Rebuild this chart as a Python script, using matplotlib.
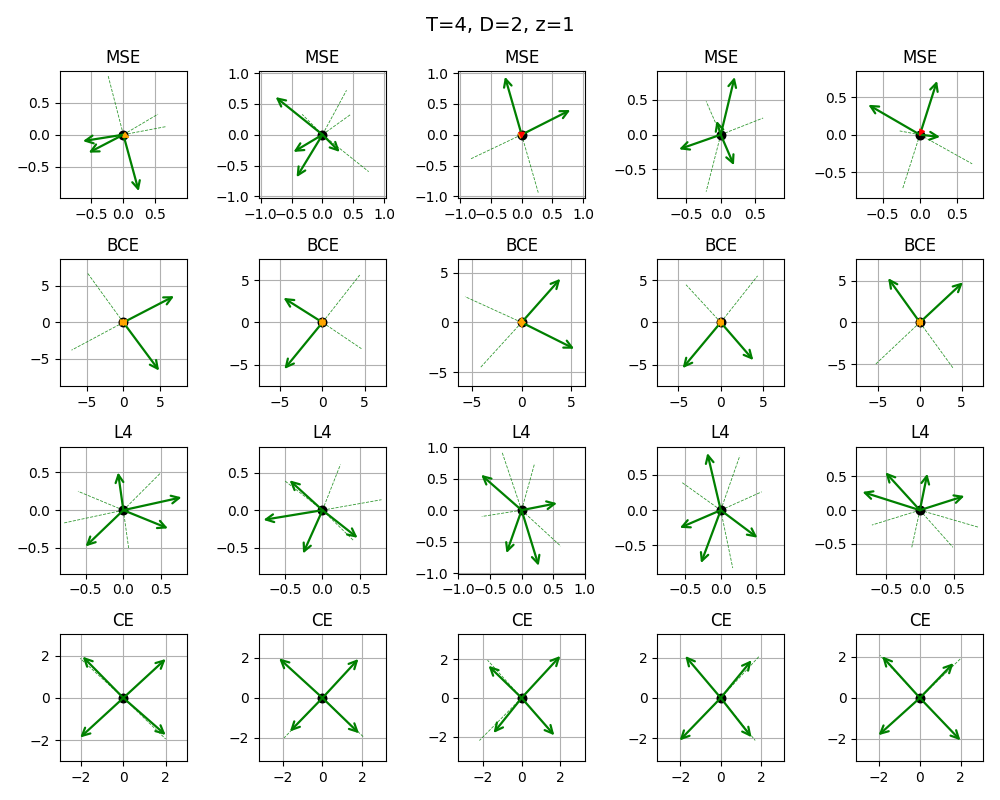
import numpy as np
import matplotlib
matplotlib.use("Agg")
import matplotlib.pyplot as plt
from matplotlib.ticker import MaxNLocator

losses = ["MSE", "BCE", "L4", "CE"]
fig_title = "T=4, D=2, z=1"

# green arrows (tips), one list per row, one array per column
mse_vecs = [
    [(-0.63, -0.10), (-0.54, -0.28), (0.24, -0.88)],
    [(-0.76, 0.61), (-0.47, -0.28), (-0.42, -0.69), (0.28, -0.28)],
    [(-0.27, 0.94), (0.79, 0.40)],
    [(0.20, 0.83), (-0.60, -0.21), (0.19, -0.44), (-0.06, 0.20)],
    [(-0.69, 0.40), (0.23, 0.72), (0.27, -0.03)],
]
bce_vecs = [
    [(6.95, 3.6), (4.9, -6.6)],
    [(-4.6, 2.9), (-4.5, -5.5)],
    [(3.9, 4.4), (5.3, -2.65)],
    [(-4.5, -5.4), (3.85, -4.45)],
    [(-3.8, 5.3), (5.15, 4.8)],
]
l4_vecs = [
    [(-0.07, 0.50), (0.77, 0.17), (0.59, -0.24), (-0.50, -0.48)],
    [(-0.44, 0.40), (-0.79, -0.13), (-0.26, -0.58), (0.47, -0.37)],
    [(-0.64, 0.56), (0.56, 0.11), (-0.24, -0.68), (0.27, -0.88)],
    [(-0.19, 0.81), (-0.58, -0.25), (-0.28, -0.75), (0.52, -0.39)],
    [(-0.51, 0.56), (0.11, 0.54), (-0.85, 0.27), (0.66, 0.21)],
]
ce_vecs = [
    [(-1.92, 1.95), (2.0, 1.84), (-2.04, -1.87), (2.0, -1.75)],
    [(-2.17, 1.98), (1.8, 1.95), (-1.63, -1.68), (1.83, -1.77)],
    [(-1.71, 1.66), (2.0, 2.17), (-1.45, -1.81), (1.69, -1.93)],
    [(-1.76, 2.08), (1.53, 1.87), (-2.04, -2.11), (1.53, -1.95)],
    [(-1.84, 2.03), (1.64, 1.70), (-2.02, -1.82), (1.98, -2.07)],
]

# dashed reference directions (end points, drawn from origin)
mse_refs = [
    [(-0.24, 0.93), (0.54, 0.32), (0.66, 0.125)],
    [(0.39, 0.72), (0.46, 0.33), (0.75, -0.60), (-0.33, 0.33)],
    [(-0.82, -0.39), (0.27, -0.94)],
    [(-0.21, 0.48), (-0.21, -0.82), (0.61, 0.24)],
    [(-0.27, 0.05), (0.70, -0.39), (-0.23, -0.72)],
]
bce_refs = [
    [(-4.9, 6.75), (-7.1, -3.8)],
    [(4.4, 5.6), (4.6, -3.1)],
    [(-5.7, 2.6), (-4.2, -4.6)],
    [(4.35, 5.5), (-4.1, 4.45)],
    [(-5.3, -5.0), (4.0, -5.5)],
]
l4_refs = [
    [(-0.60, 0.25), (0.49, 0.49), (-0.79, -0.17), (0.07, -0.50)],
    [(0.24, 0.61), (0.79, 0.14), (0.42, -0.41), (-0.50, 0.39)],
    [(-0.31, 0.92), (0.20, 0.72), (-0.63, -0.10), (0.62, -0.57)],
    [(0.27, 0.77), (0.58, 0.26), (-0.56, 0.40), (0.17, -0.82)],
    [(-0.71, -0.22), (0.86, -0.25), (-0.12, -0.55), (0.49, -0.55)],
]
ce_refs = [
    [(-2.04, 1.87), (2.0, -1.94)],
    [(-1.92, -2.0), (2.08, -1.98)],
    [(-1.76, 1.95), (-2.18, -2.2)],
    [(1.92, 2.08), (1.71, -2.11)],
    [(-1.95, 2.08), (2.02, 1.95)],
]

# small orange / red arrows at the origin
mse_orange = [[(0.10, -0.05)], [], [(0.06, 0.03)], [], []]
mse_red = [[], [], [(0.0, -0.07)], [], [(-0.01, -0.02)]]
bce_orange = [[(0.0, 0.6), (0.0, -0.6), (0.5, 0.0), (-0.5, 0.0)]] * 5
l4_orange = [[]] * 5
ce_orange = [[]] * 5
no_red = [[]] * 5

vecs = [mse_vecs, bce_vecs, l4_vecs, ce_vecs]
refs = [mse_refs, bce_refs, l4_refs, ce_refs]
oranges = [mse_orange, bce_orange, l4_orange, ce_orange]
reds = [mse_red, no_red, no_red, no_red]

lims = [
    [0.99, 1.03, 1.03, 0.914, 0.85],
    [8.7, 7.5, 6.4, 7.5, 7.6],
    [0.84, 0.85, 1.005, 0.9, 0.94],
    [3.0, 3.18, 3.28, 3.15, 3.1],
]


def draw_arrow(ax, v, color, style, lw, ms):
    ax.annotate("", xy=v, xytext=(0, 0),
                arrowprops=dict(arrowstyle=style, color=color, lw=lw,
                                mutation_scale=ms, shrinkA=0, shrinkB=0))


fig, axes = plt.subplots(4, 5, figsize=(10, 8))
for i, loss in enumerate(losses):
    for j in range(5):
        ax = axes[i, j]
        for r in refs[i][j]:
            ax.plot([0, r[0]], [0, r[1]], "--", color="green", lw=0.6, alpha=0.8)
        ax.scatter([0], [0], s=38, color="black", zorder=2.5)
        for v in vecs[i][j]:
            draw_arrow(ax, v, "green", "->", 1.6, 14)
        for v in oranges[i][j]:
            draw_arrow(ax, v, "orange", "-|>", 1.0, 9)
        for v in reds[i][j]:
            draw_arrow(ax, v, "red", "-|>", 1.0, 9)
        L = lims[i][j]
        ax.set_xlim(-L, L)
        ax.set_ylim(-L, L)
        ax.xaxis.set_major_locator(MaxNLocator(nbins=5, steps=[1, 2, 2.5, 5, 10]))
        ax.yaxis.set_major_locator(MaxNLocator(nbins=5, steps=[1, 2, 2.5, 5, 10]))
        ax.set_aspect("equal")
        ax.grid(True)
        ax.set_axisbelow(True)
        ax.set_title(loss)

fig.suptitle(fig_title, fontsize=14)
fig.tight_layout()
fig.savefig("out.png", dpi=100)
